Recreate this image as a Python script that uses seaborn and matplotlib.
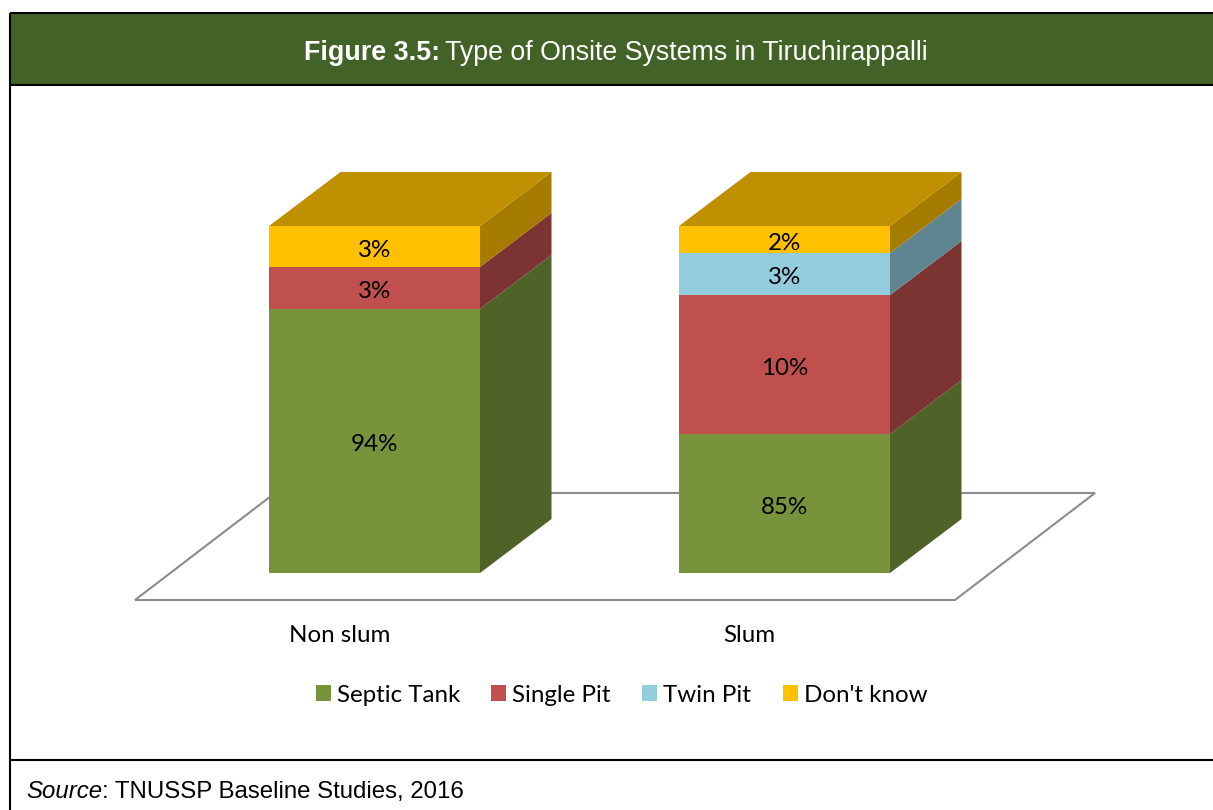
import matplotlib
matplotlib.use("Agg")
import matplotlib.pyplot as plt
import matplotlib.transforms as mtrans
from matplotlib.patches import Rectangle, Polygon
import seaborn as sns

categories = ["Non slum", "Slum"]
series_names = ["Septic Tank", "Single Pit", "Twin Pit", "Don't know"]
# drawn heights (share of the column as printed in the picture; the source axis is not linear)
septic_tank = [76.1, 40.05]
single_pit = [12.1, 40.05]
twin_pit = [0.0, 12.1]
dont_know = [11.8, 7.8]
# printed labels
septic_labels = ["94%", "85%"]
single_labels = ["3%", "10%"]
twin_labels = ["", "3%"]
dont_labels = ["3%", "2%"]

FRONT = ["#77933C", "#C0504D", "#93CDDD", "#FFC000"]
SIDE = ["#4F6228", "#7B3432", "#5F8590", "#A67C00"]
TOP = "#BF9000"
HEADER = "#426228"

W, H = 1213, 810
LABEL_SIZE = 17.4
sns.set_theme(style="white")
plt.rcParams["font.family"] = ["Lato", "DejaVu Sans"]
fig = plt.figure(figsize=(W / 100, H / 100), dpi=100, facecolor="white")

# page layer in pixel coordinates: frame, header band and chart floor
page = fig.add_axes([0, 0, 1, 1], zorder=0)
page.set_xlim(0, W)
page.set_ylim(H, 0)
page.axis("off")
page.add_patch(Rectangle((10, 13), W, 72, fc=HEADER, ec="none"))
for y in (13, 85, 760):
    page.plot([10, W], [y, y], color="black", lw=1.5, solid_capstyle="butt")
page.plot([10, 10], [13, H], color="black", lw=1.5, solid_capstyle="butt")
page.add_patch(Polygon([(135, 600), (955, 600), (1095, 493), (275, 493)],
                       closed=True, fc="white", ec="#8C8C8C", lw=1.5))

page.text(440, 53, "Figure 3.5:", color="white", fontsize=19.4, fontweight="bold",
          family=["Liberation Sans"], ha="right", va="center")
page.text(445, 53, "Type of Onsite Systems in Tiruchirappalli", color="white", fontsize=19.3,
          family=["Liberation Sans"], ha="left", va="center")
page.text(26, 792, "Source", color="black", fontsize=17.3, style="italic",
          family=["Liberation Sans"], ha="left", va="center")
page.text(102, 792, ": TNUSSP Baseline Studies, 2016", color="black", fontsize=17.3,
          family=["Liberation Sans"], ha="left", va="center")

# chart layer
ax = fig.add_axes([169.5 / W, 1 - 573 / H, 820 / W, 347 / H], zorder=2)
ax.patch.set_alpha(0)
DX = 71.5 / 410
DY = 54 / 347 * 100
BAR_W = 211 / 410

values = [septic_tank, single_pit, twin_pit, dont_know]
labels = [septic_labels, single_labels, twin_labels, dont_labels]
bottom = [0.0, 0.0]
for i, (vals, txt) in enumerate(zip(values, labels)):
    before = len(ax.patches)
    sns.barplot(x=categories, y=vals, bottom=bottom, color=FRONT[i], saturation=1,
                width=BAR_W, errorbar=None, ax=ax, linewidth=0, zorder=3)
    for bar, t in zip(ax.patches[before:], txt):
        x0, x1 = bar.get_x(), bar.get_x() + bar.get_width()
        y0, y1 = bar.get_y(), bar.get_y() + bar.get_height()
        if bar.get_height() > 0:
            ax.add_patch(Polygon([(x1, y0), (x1 + DX, y0 + DY), (x1 + DX, y1 + DY), (x1, y1)],
                                 closed=True, fc=SIDE[i], ec="none", clip_on=False, zorder=3))
        if t:
            ax.text((x0 + x1) / 2, (y0 + y1) / 2 - 1.1, t, ha="center", va="center",
                    fontsize=LABEL_SIZE, color="black", zorder=5)
    bottom = [b + v for b, v in zip(bottom, vals)]

for x, total in zip(range(len(categories)), bottom):
    x0, x1 = x - BAR_W / 2, x + BAR_W / 2
    ax.add_patch(Polygon([(x0, total), (x1, total), (x1 + DX, total + DY), (x0 + DX, total + DY)],
                         closed=True, fc=TOP, ec="none", clip_on=False, zorder=3))

ax.set_xlim(-0.5, 1.5)
ax.set_ylim(0, 100)
ax.set_yticks([])
ax.set_ylabel("")
sns.despine(ax=ax, left=True, bottom=True)
ax.tick_params(axis="x", length=0, pad=37.5, labelsize=LABEL_SIZE, labelcolor="black")
shift = mtrans.ScaledTranslation(-35 / 100, 0, fig.dpi_scale_trans)
for lab in ax.get_xticklabels():
    lab.set_transform(lab.get_transform() + shift)

handles = [Rectangle((0, 0), 1, 1, fc=c, ec="none") for c in FRONT]
fig.legend(handles, series_names, ncol=4, frameon=False, loc="center",
           bbox_to_anchor=(621.5 / W, 1 - 695 / H), fontsize=LABEL_SIZE, handlelength=0.62,
           handleheight=0.62, handletextpad=0.25, columnspacing=1.3, labelcolor="black")

fig.savefig("out.png", dpi=100, facecolor="white")
